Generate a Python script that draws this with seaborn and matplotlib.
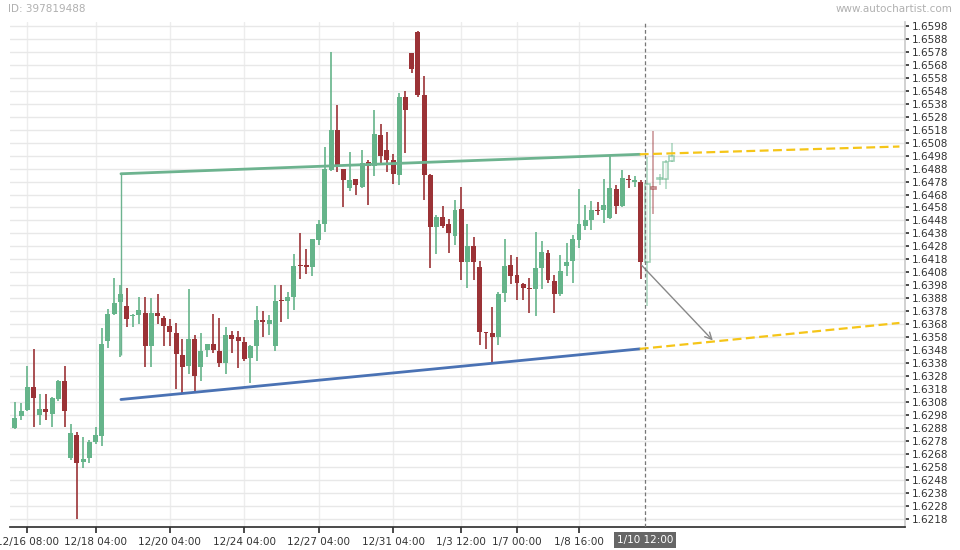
import matplotlib
matplotlib.use("Agg")
import matplotlib.pyplot as plt
import numpy as np
import pandas as pd
import seaborn as sns

# OHLC, one row per candle (last five are the projected ones)
opens = [1.6288, 1.6297, 1.6302, 1.6320, 1.6298, 1.6303, 1.6299, 1.6310, 1.6324, 1.6265,
         1.6283, 1.6262, 1.6265, 1.6277, 1.6282, 1.6355, 1.6376, 1.6385, 1.6382, 1.6374,
         1.6375, 1.6377, 1.6351, 1.6377, 1.6373, 1.6367, 1.6361, 1.6344, 1.6336, 1.6357,
         1.6335, 1.6348, 1.6353, 1.6347, 1.6338, 1.6360, 1.6358, 1.6354, 1.6342, 1.6351,
         1.6371, 1.6368, 1.6351, 1.6387, 1.6386, 1.6389, 1.6414, 1.6414, 1.6412, 1.6433,
         1.6445, 1.6487, 1.6518, 1.6488, 1.6473, 1.6480, 1.6474, 1.6493, 1.6490, 1.6514,
         1.6502, 1.6495, 1.6483, 1.6543, 1.6577, 1.6593, 1.6545, 1.6483, 1.6443, 1.6451,
         1.6445, 1.6436, 1.6457, 1.6416, 1.6428, 1.6412, 1.6362, 1.6361, 1.6358, 1.6392,
         1.6414, 1.6406, 1.6399, 1.6396, 1.6395, 1.6411, 1.6423, 1.6401, 1.6391, 1.6413,
         1.6417, 1.6433, 1.6444, 1.6448, 1.6456, 1.6456, 1.6450, 1.6472, 1.6459, 1.6480,
         1.6478, 1.6478,
         1.6416, 1.6474, 1.6480, 1.6480, 1.6494]
highs = [1.6308, 1.6307, 1.6336, 1.6349, 1.6314, 1.6314, 1.6312, 1.6325, 1.6336, 1.6291,
         1.6285, 1.6281, 1.6279, 1.6289, 1.6365, 1.6380, 1.6404, 1.6398, 1.6396, 1.6376,
         1.6389, 1.6389, 1.6388, 1.6391, 1.6374, 1.6372, 1.6369, 1.6357, 1.6395, 1.6360,
         1.6361, 1.6353, 1.6376, 1.6373, 1.6366, 1.6363, 1.6363, 1.6358, 1.6352, 1.6382,
         1.6378, 1.6375, 1.6398, 1.6398, 1.6393, 1.6422, 1.6438, 1.6426, 1.6434, 1.6448,
         1.6505, 1.6578, 1.6537, 1.6488, 1.6501, 1.6480, 1.6502, 1.6495, 1.6533, 1.6522,
         1.6516, 1.6499, 1.6546, 1.6548, 1.6577, 1.6594, 1.6559, 1.6484, 1.6452, 1.6459,
         1.6449, 1.6464, 1.6474, 1.6445, 1.6435, 1.6417, 1.6362, 1.6381, 1.6393, 1.6434,
         1.6421, 1.6420, 1.6400, 1.6404, 1.6439, 1.6432, 1.6425, 1.6406, 1.6421, 1.6431,
         1.6437, 1.6472, 1.6460, 1.6463, 1.6462, 1.6480, 1.6498, 1.6475, 1.6487, 1.6483,
         1.6482, 1.6479,
         1.6497, 1.6517, 1.6484, 1.6495, 1.6508]
lows = [1.6287, 1.6294, 1.6301, 1.6289, 1.6290, 1.6294, 1.6289, 1.6309, 1.6289, 1.6263,
        1.6218, 1.6257, 1.6261, 1.6276, 1.6274, 1.6350, 1.6375, 1.6343, 1.6366, 1.6366,
        1.6368, 1.6335, 1.6335, 1.6368, 1.6351, 1.6351, 1.6318, 1.6315, 1.6330, 1.6315,
        1.6324, 1.6343, 1.6346, 1.6335, 1.6330, 1.6346, 1.6334, 1.6340, 1.6323, 1.6340,
        1.6358, 1.6360, 1.6347, 1.6370, 1.6372, 1.6379, 1.6403, 1.6407, 1.6405, 1.6429,
        1.6439, 1.6486, 1.6485, 1.6458, 1.6471, 1.6468, 1.6473, 1.6460, 1.6482, 1.6492,
        1.6485, 1.6476, 1.6475, 1.6500, 1.6562, 1.6543, 1.6464, 1.6411, 1.6422, 1.6442,
        1.6423, 1.6429, 1.6402, 1.6396, 1.6402, 1.6352, 1.6349, 1.6338, 1.6352, 1.6385,
        1.6399, 1.6387, 1.6387, 1.6377, 1.6374, 1.6395, 1.6400, 1.6377, 1.6390, 1.6405,
        1.6400, 1.6427, 1.6441, 1.6441, 1.6452, 1.6446, 1.6449, 1.6453, 1.6458, 1.6473,
        1.6474, 1.6403,
        1.6382, 1.6453, 1.6475, 1.6472, 1.6493]
closes = [1.6296, 1.6301, 1.6320, 1.6311, 1.6303, 1.6300, 1.6311, 1.6324, 1.6301, 1.6284,
          1.6261, 1.6264, 1.6277, 1.6283, 1.6353, 1.6376, 1.6384, 1.6391, 1.6372, 1.6375,
          1.6379, 1.6351, 1.6377, 1.6374, 1.6367, 1.6362, 1.6345, 1.6335, 1.6357, 1.6328,
          1.6347, 1.6353, 1.6348, 1.6338, 1.6360, 1.6357, 1.6355, 1.6341, 1.6351, 1.6371,
          1.6370, 1.6371, 1.6386, 1.6386, 1.6389, 1.6413, 1.6413, 1.6412, 1.6434, 1.6445,
          1.6488, 1.6518, 1.6489, 1.6479, 1.6479, 1.6475, 1.6492, 1.6490, 1.6515, 1.6498,
          1.6495, 1.6484, 1.6543, 1.6533, 1.6565, 1.6545, 1.6483, 1.6443, 1.6451, 1.6444,
          1.6438, 1.6456, 1.6416, 1.6428, 1.6416, 1.6362, 1.6361, 1.6358, 1.6391, 1.6413,
          1.6405, 1.6400, 1.6396, 1.6395, 1.6411, 1.6424, 1.6402, 1.6391, 1.6409, 1.6416,
          1.6434, 1.6445, 1.6448, 1.6456, 1.6455, 1.6460, 1.6473, 1.6459, 1.6481, 1.6479,
          1.6479, 1.6416,
          1.6476, 1.6472, 1.6480, 1.6493, 1.6498]
n_real = 102

# pattern lines (candle index, price)
top_line_x = [17.1, 100.8]
top_line_y = [1.6484, 1.6499]
bottom_line_x = [17.1, 100.8]
bottom_line_y = [1.6310, 1.6349]
top_proj_y = [1.6499, 1.6505]
bottom_proj_y = [1.6349, 1.6369]
proj_x = [100.8, 142.7]
arrow_x = [100.8, 112.9]
arrow_y = [1.6415, 1.6354]
now_x = 101.65

tick_pos = [2, 13, 25, 37, 49, 61, 72, 81, 91]
tick_labels = ["12/16 08:00", "12/18 04:00", "12/20 04:00", "12/24 04:00", "12/27 04:00",
               "12/31 04:00", "1/3 12:00", "1/7 00:00", "1/8 16:00"]
now_label = "1/10 12:00"
price_ticks = [round(1.6218 + 0.001 * i, 4) for i in range(39)]

sns.set_theme(style="white")
plt.rcParams['font.family'] = ['DejaVu Sans']

GREEN = "#65b48a"
RED = "#9b3236"

df = pd.DataFrame({"open": opens, "high": highs, "low": lows, "close": closes})
df["idx"] = np.arange(len(df))
df["up"] = df["close"] >= df["open"]

fig = plt.figure(figsize=(9.6, 5.5), dpi=100)
ax = fig.add_axes([10 / 960, 23 / 550, 895 / 960, 505 / 550])

ax.set_xlim(-0.8, 143.6)
ax.set_ylim(1.62117, 1.6601)
ax.set_yticks(price_ticks)
ax.grid(True, axis='y', color='#e8e8e8', lw=1)
for p in tick_pos:
    ax.axvline(p, color='#ededed', lw=1, zorder=0)

real = df[df["idx"] < n_real]
ghost = df[df["idx"] >= n_real]
w = 0.8
for _, r in real.iterrows():
    c = GREEN if r["up"] else RED
    ax.vlines(r["idx"], r["low"], r["high"], color=c, lw=1.2, zorder=2)
    lo, hi = min(r["open"], r["close"]), max(r["open"], r["close"])
    ax.bar(r["idx"], max(hi - lo, 0.00005), bottom=lo, width=w, color=c, zorder=3, linewidth=0)
for _, r in ghost.iterrows():
    c = GREEN if r["up"] else RED
    ax.vlines(r["idx"], r["low"], r["high"], color=c, lw=1.1, alpha=0.55, zorder=2)
    lo, hi = min(r["open"], r["close"]), max(r["open"], r["close"])
    ax.bar(r["idx"], max(hi - lo, 0.00005), bottom=lo, width=w, facecolor='white',
           edgecolor=c, alpha=0.6, lw=1.2, zorder=3)

sns.lineplot(x=top_line_x, y=top_line_y, ax=ax, color="#6db38f", lw=2, zorder=4)
ax.vlines(top_line_x[0], 1.6344, top_line_y[0], color="#6db38f", lw=1, zorder=4)
sns.lineplot(x=bottom_line_x, y=bottom_line_y, ax=ax, color="#4a72b4", lw=2, zorder=4)
ax.plot(proj_x, top_proj_y, color="#f5c518", lw=1.6, ls=(0, (4, 2)), zorder=4)
ax.plot(proj_x, bottom_proj_y, color="#f5c518", lw=1.6, ls=(0, (4, 2)), zorder=4)
ax.annotate("", xy=(arrow_x[1], arrow_y[1]), xytext=(arrow_x[0], arrow_y[0]),
            arrowprops=dict(arrowstyle="->", color="#888888", lw=1), zorder=5)
ax.axvline(now_x, color="#777777", lw=0.9, ls=(0, (3, 2)), zorder=5)

ax.yaxis.tick_right()
ax.tick_params(axis='y', labelsize=7.5, colors='#333333', length=3, pad=2, right=True)
ax.set_xticks(tick_pos)
ax.set_xticklabels(tick_labels)
ax.tick_params(axis='x', labelsize=7.5, colors='#333333', length=4, bottom=True)
for s in ["top", "left"]:
    ax.spines[s].set_visible(False)
ax.spines["bottom"].set_color("#333333")
ax.spines["right"].set_color("#cccccc")
ax.text(now_x, -0.025, now_label, transform=ax.get_xaxis_transform(), ha='center', va='center',
        fontsize=7.5, color='white', bbox=dict(boxstyle='square,pad=0.3', fc='#666666', ec='none'),
        zorder=10, clip_on=False)

fig.text(8 / 960, 1 - 9 / 550, "ID: 397819488", fontsize=7.5, color='#b0b0b0', va='center')
fig.text(952 / 960, 1 - 9 / 550, "www.autochartist.com", fontsize=7.5, color='#b0b0b0',
         va='center', ha='right')

fig.savefig("out.png", dpi=100)
